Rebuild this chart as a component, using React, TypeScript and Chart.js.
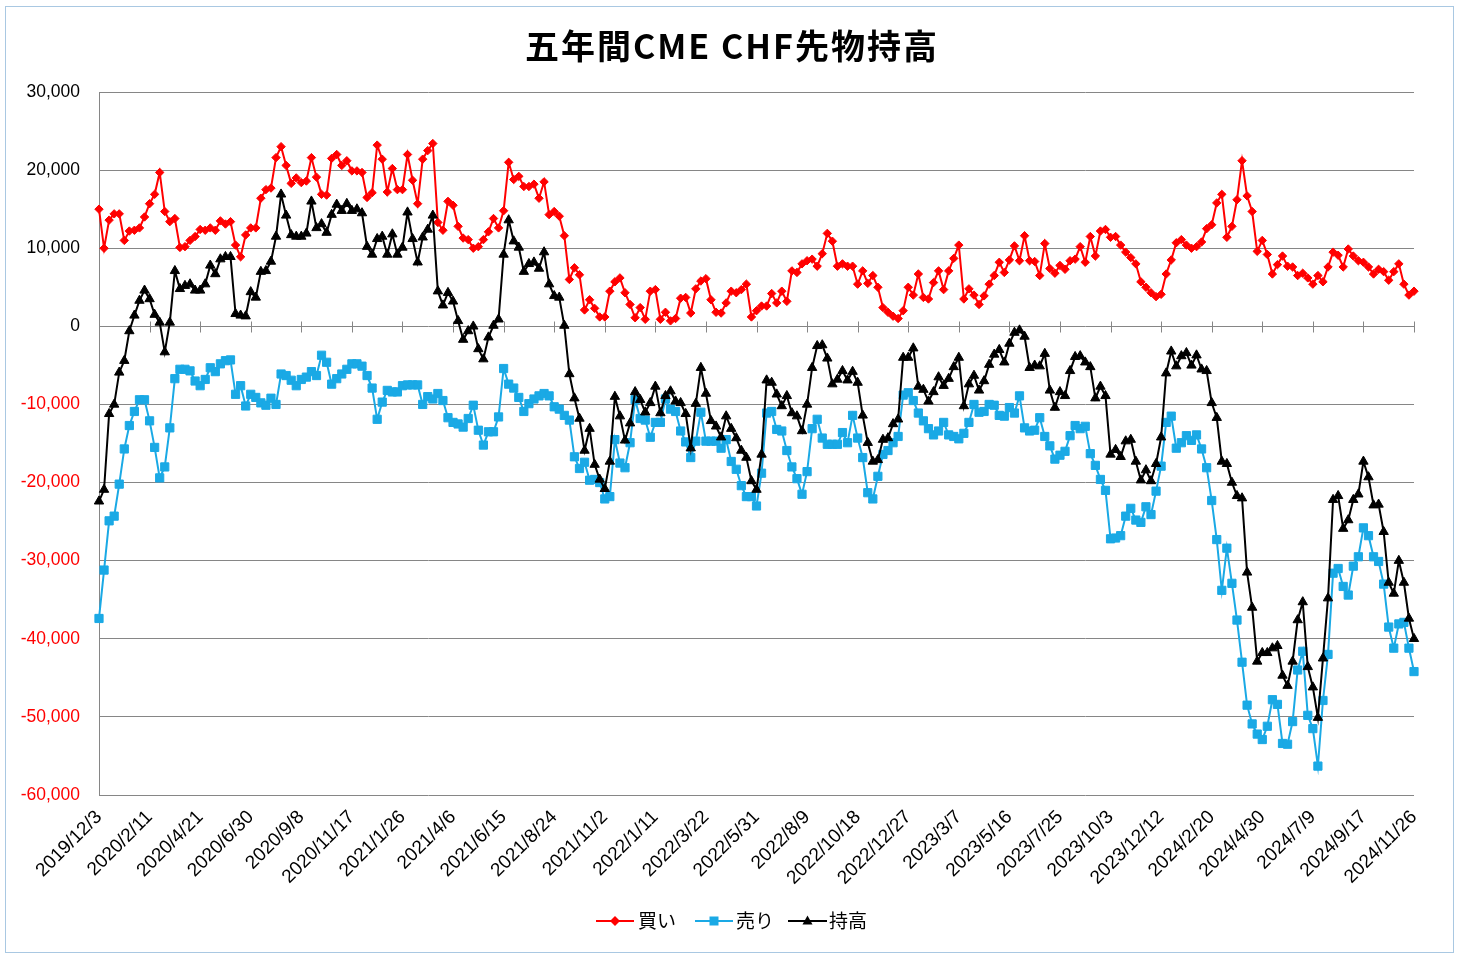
import React, { useEffect, useRef } from "react";
import { Chart, registerables } from "chart.js";

Chart.register(...registerables);

const TITLE = "五年間CME CHF先物持高";
const SERIES_NAMES = ["買い", "売り", "持高"];
const START_YEAR = 2019;
const START_MONTH = 12;
const START_DAY = 3;
const WEEK_COUNT = 261;
const LABEL_EVERY = 10;

const Y_MIN = -60000;
const Y_MAX = 30000;
const Y_STEP = 10000;

// weekly category labels (2019/12/3 ... 2024/11/26)
const categories: string[] = [];
for (let i = 0; i < WEEK_COUNT; i++) {
  const d = new Date(Date.UTC(START_YEAR, START_MONTH - 1, START_DAY + i * 7));
  categories.push(`${d.getUTCFullYear()}/${d.getUTCMonth() + 1}/${d.getUTCDate()}`);
}

const buyValues = [
  15000, 10000, 13600, 14400, 14400, 11000, 12200, 12300, 12600, 14000,
  15700, 16900, 19700, 14700, 13400, 13800, 10100, 10200, 11000, 11500,
  12400, 12300, 12600, 12300, 13500, 13100, 13400, 10400, 8900, 11700,
  12600, 12600, 16400, 17500, 17700, 21600, 23000, 20600, 18300, 19000,
  18400, 18600, 21600, 19100, 16900, 16800, 21500, 22000, 20600, 21200,
  19900, 19900, 19700, 16500, 17100, 23200, 21400, 17200, 20200, 17500,
  17500, 22000, 18700, 15700, 21400, 22500, 23400, 13300, 12300, 16000,
  15500, 12800, 11300, 11100, 10000, 10200, 11100, 12100, 13800, 12600,
  14800, 21000, 18800, 19200, 17900, 17900, 18200, 16400, 18500, 14300,
  14700, 14100, 11600, 6000, 7500, 6600, 2100, 3400, 2300, 1200,
  1200, 4500, 5700, 6200, 4300, 2800, 1100, 2400, 900, 4500,
  4700, 900, 1800, 700, 1000, 3600, 3700, 1700, 4800, 5800,
  6100, 3400, 1800, 1700, 3000, 4500, 4300, 4700, 5400, 1200,
  2000, 2600, 2600, 4200, 3000, 4500, 3200, 7100, 6900, 8000,
  8400, 8600, 7700, 9300, 11900, 10900, 7700, 8000, 7700, 7700,
  5400, 7100, 5500, 6500, 5000, 2400, 1800, 1300, 1000, 2000,
  5000, 4000, 6700, 3700, 3500, 5600, 7100, 4700, 7100, 8700,
  10400, 3500, 4800, 4000, 2800, 3900, 5400, 6500, 8200, 6900,
  8500, 10300, 8400, 11600, 8400, 8300, 6500, 10600, 7400, 6800,
  7800, 7300, 8400, 8600, 10200, 8200, 11500, 9000, 12200, 12400,
  11400, 11500, 10400, 9500, 8800, 8000, 5700, 5000, 4300, 3800,
  4100, 6700, 8500, 10700, 11100, 10400, 10000, 10200, 10800, 12500,
  13000, 15800, 16900, 11400, 12800, 16200, 21200, 16700, 14700, 9600,
  11000, 9200, 6700, 7900, 9000, 7700, 7600, 6500, 6800, 6200,
  5400, 6500, 5700, 7600, 9500, 9100, 7600, 9900, 9000, 8400,
  8200, 7600, 6700, 7300, 7000, 5900, 7000, 8000, 5400, 4000,
  4500,
];

const sellValues = [
  -37400, -31200, -24900, -24300, -20200, -15700, -12700, -10900, -9400, -9400,
  -12100, -15500, -19400, -18000, -13000, -6700, -5500, -5500, -5700, -7000,
  -7600, -6800, -5300, -5800, -4800, -4400, -4300, -8700, -7600, -10200,
  -8700, -9100, -9800, -10100, -9200, -10000, -6100, -6300, -6900, -7600,
  -6800, -6500, -5800, -6300, -3700, -4600, -7400, -6700, -6100, -5500,
  -4800, -4800, -5100, -6300, -7900, -11900, -9700, -8200, -8400, -8400,
  -7600, -7500, -7500, -7500, -10000, -9000, -9300, -8600, -9500, -11700,
  -12300, -12500, -12900, -11800, -10100, -13300, -15200, -13500, -13500, -11600,
  -5400, -7400, -7900, -9100, -10900, -9900, -9300, -8900, -8600, -8900,
  -10300, -10600, -11400, -12000, -16700, -18200, -17400, -19700, -19600, -20000,
  -22100, -21800, -14500, -17500, -18100, -14900, -9400, -11800, -12000, -14200,
  -12300, -12300, -9300, -10600, -10900, -13400, -14800, -16800, -14700, -11000,
  -14700, -14700, -14700, -15600, -14500, -17300, -18300, -20400, -21800, -21800,
  -23000, -18800, -11100, -10900, -13200, -13400, -15900, -18000, -19500, -21500,
  -18600, -13100, -11900, -14300, -15100, -15100, -15100, -13600, -14900, -11400,
  -14300, -16800, -21300, -22100, -19200, -16400, -15900, -14900, -14100, -8800,
  -8500, -9500, -11100, -12100, -13100, -13900, -13400, -12300, -13900, -14100,
  -14400, -13700, -12300, -10000, -11000, -10900, -10000, -10100, -11400, -11500,
  -10400, -11100, -8900, -13000, -13400, -13300, -11700, -14100, -15300, -17000,
  -16500, -16000, -14000, -12700, -13100, -12800, -16300, -17800, -19600, -21000,
  -27200, -27100, -26800, -24300, -23300, -24800, -25100, -23100, -24100, -21100,
  -17900, -12300, -11500, -15600, -14900, -14000, -14600, -13900, -15700, -18100,
  -22300, -27300, -33800, -28400, -32900, -37600, -43000, -48500, -50900, -52200,
  -52900, -51200, -47800, -48400, -53400, -53500, -50600, -44000, -41600, -49800,
  -51500, -56300, -47900, -42000, -31600, -31000, -33300, -34400, -30700, -29500,
  -25800, -26800, -29500, -30100, -33000, -38500, -41200, -38100, -37900, -41200,
  -44200,
];

const netValues = [
  -22400, -20900, -11200, -10000, -5900, -4400, -600, 1400, 3300, 4600,
  3500, 1500, 500, -3300, 500, 7100, 4800, 5200, 5400, 4600,
  4600, 5400, 7800, 6700, 8600, 8900, 8900, 1600, 1400, 1300,
  4400, 3700, 7000, 7100, 8300, 11500, 16900, 14200, 11700, 11500,
  11500, 11900, 16000, 12600, 13100, 12000, 14300, 15600, 14800, 15700,
  14800, 15000, 14500, 10200, 9200, 11200, 11500, 9200, 11800, 9200,
  10100, 14600, 11200, 8200, 11400, 12400, 14200, 4500, 2700, 4300,
  3200, 700, -1700, -600, 0, -2900, -4200, -1400, 100, 900,
  9200, 13600, 10900, 10100, 7000, 8000, 8200, 7400, 9500, 5400,
  3900, 3700, 100, -6100, -9200, -11800, -15900, -13100, -17700, -19600,
  -20800, -17300, -9000, -11500, -14600, -12400, -8400, -9400, -11000, -9800,
  -7700, -11100, -8900, -8300, -9600, -9800, -11200, -15600, -9900, -5300,
  -8600, -12100, -12800, -14200, -11500, -13100, -14300, -15900, -16800, -19800,
  -20900, -16400, -6900, -7200, -8700, -10200, -8900, -11100, -11500, -13400,
  -10000, -5300, -2500, -2400, -4100, -7400, -6800, -5700, -6900, -5800,
  -7200, -11400, -14900, -17300, -17100, -14500, -14300, -12500, -11900, -4000,
  -4000, -2800, -7700, -8100, -9600, -8400, -6500, -7600, -6700, -5200,
  -4000, -10200, -7400, -6300, -8200, -7000, -4900, -3600, -3000, -4600,
  -2200, -800, -500, -1300, -5300, -5000, -5100, -3500, -8200, -10400,
  -8400, -8900, -5700, -3900, -3800, -4600, -5200, -9200, -7700, -8900,
  -16400, -15800, -16700, -14700, -14500, -17300, -19700, -18400, -19800, -17600,
  -14200, -6000, -3200, -5100, -3800, -3400, -5000, -3700, -5500, -5700,
  -9800, -11700, -17300, -17600, -20000, -21700, -22000, -31500, -36000, -42900,
  -41800, -41800, -41200, -40900, -44700, -46000, -42900, -37600, -35300, -43600,
  -46200, -50100, -42500, -34800, -22200, -21700, -25900, -24800, -22200, -21500,
  -17300, -19300, -22900, -22800, -26300, -32800, -34200, -30000, -32800, -37400,
  -40000,
];

const COLORS = ["#FF0000", "#1AA9E5", "#000000"];
const GRID = "#868686";
const NUM_FONT = '"Liberation Sans", Arial, sans-serif';
const JP_FONT = '"Noto Sans CJK JP", "Noto Sans", sans-serif';

function drawMarker(ctx: CanvasRenderingContext2D, style: string, x: number, y: number, color: string) {
  ctx.save();
  ctx.fillStyle = color;
  ctx.beginPath();
  if (style === "rectRot") {
    const r = 5;
    ctx.moveTo(x, y - r);
    ctx.lineTo(x + r, y);
    ctx.lineTo(x, y + r);
    ctx.lineTo(x - r, y);
  } else if (style === "rect") {
    ctx.rect(x - 4.5, y - 4.5, 9, 9);
  } else {
    ctx.moveTo(x, y - 5.5);
    ctx.lineTo(x + 5, y + 3.5);
    ctx.lineTo(x - 5, y + 3.5);
  }
  ctx.closePath();
  ctx.fill();
  ctx.restore();
}

const decorPlugin = {
  id: "decor",
  beforeDraw(chart: any) {
    const ctx = chart.ctx as CanvasRenderingContext2D;
    ctx.save();
    ctx.fillStyle = "#FFFFFF";
    ctx.fillRect(0, 0, chart.width, chart.height);
    ctx.restore();
  },
  beforeDatasetsDraw(chart: any) {
    const ctx = chart.ctx as CanvasRenderingContext2D;
    const xs = chart.scales.x;
    const ys = chart.scales.y;
    const y0 = Math.round(ys.getPixelForValue(0)) + 0.5;
    ctx.save();
    ctx.strokeStyle = GRID;
    ctx.lineWidth = 1;
    for (let i = 0; i < categories.length; i += LABEL_EVERY) {
      const x = Math.round(xs.getPixelForValue(i)) + 0.5;
      ctx.beginPath();
      ctx.moveTo(x, y0 - 5);
      ctx.lineTo(x, y0 + 6);
      ctx.stroke();
    }
    ctx.restore();
  },
  afterDraw(chart: any) {
    const ctx = chart.ctx as CanvasRenderingContext2D;
    ctx.save();
    // title
    ctx.fillStyle = "#000000";
    ctx.font = `bold 34px ${JP_FONT}`;
    (ctx as any).letterSpacing = "2px";
    ctx.textAlign = "center";
    ctx.textBaseline = "middle";
    ctx.fillText(TITLE, 732, 46);
    (ctx as any).letterSpacing = "0px";

    // legend
    const ly = 921;
    const items = [
      { x0: 596, x1: 634, tx: 638, style: "rectRot" },
      { x0: 695, x1: 733, tx: 736, style: "rect" },
      { x0: 788, x1: 827, tx: 829, style: "triangle" },
    ];
    ctx.font = `19px ${JP_FONT}`;
    ctx.textAlign = "left";
    ctx.textBaseline = "middle";
    items.forEach((it, k) => {
      ctx.strokeStyle = COLORS[k];
      ctx.lineWidth = 2;
      ctx.beginPath();
      ctx.moveTo(it.x0, ly);
      ctx.lineTo(it.x1, ly);
      ctx.stroke();
      drawMarker(ctx, it.style, (it.x0 + it.x1) / 2, ly, COLORS[k]);
      ctx.fillStyle = "#000000";
      ctx.fillText(SERIES_NAMES[k], it.tx, ly);
    });

    // outer frame
    ctx.strokeStyle = "#A9C8E2";
    ctx.lineWidth = 1;
    ctx.strokeRect(5.5, 6.5, 1448, 946);
    ctx.restore();
  },
};

export default function App() {
  const canvasRef = useRef<HTMLCanvasElement | null>(null);

  useEffect(() => {
    const canvas = canvasRef.current;
    if (!canvas) return;
    const chart = new Chart(canvas, {
      type: "line",
      data: {
        labels: categories,
        datasets: [
          {
            label: SERIES_NAMES[0],
            data: buyValues,
            borderColor: COLORS[0],
            backgroundColor: COLORS[0],
            borderWidth: 2,
            pointStyle: "rectRot",
            pointRadius: 4.2,
            pointBorderWidth: 1,
            pointBorderColor: COLORS[0],
            pointBackgroundColor: COLORS[0],
            tension: 0,
            order: 2,
          },
          {
            label: SERIES_NAMES[1],
            data: sellValues,
            borderColor: COLORS[1],
            backgroundColor: COLORS[1],
            borderWidth: 2,
            pointStyle: "rect",
            pointRadius: 5.8,
            pointBorderWidth: 1,
            pointBorderColor: COLORS[1],
            pointBackgroundColor: COLORS[1],
            tension: 0,
            order: 1,
          },
          {
            label: SERIES_NAMES[2],
            data: netValues,
            borderColor: COLORS[2],
            backgroundColor: COLORS[2],
            borderWidth: 2,
            pointStyle: "triangle",
            pointRadius: 5.4,
            pointBorderWidth: 1,
            pointBorderColor: COLORS[2],
            pointBackgroundColor: COLORS[2],
            tension: 0,
            order: 0,
          },
        ],
      },
      options: {
        responsive: false,
        animation: false,
        devicePixelRatio: 1,
        layout: { padding: { top: 92, right: 46, bottom: 0, left: 0 } },
        plugins: {
          legend: { display: false },
          title: { display: false },
          tooltip: { enabled: false },
        },
        scales: {
          x: {
            type: "category",
            offset: false,
            grid: { display: false, drawTicks: false },
            border: { display: false },
            afterFit: (scale: any) => {
              scale.height = 165;
            },
            ticks: {
              autoSkip: false,
              minRotation: 45,
              maxRotation: 45,
              padding: 11,
              color: "#000000",
              font: { family: NUM_FONT, size: 19 },
              callback: (_v: any, idx: number) => (idx % LABEL_EVERY === 0 ? categories[idx] : ""),
            },
          },
          y: {
            type: "linear",
            min: Y_MIN,
            max: Y_MAX,
            grid: { color: GRID, lineWidth: 1, drawTicks: false },
            border: { display: true, color: GRID, width: 1 },
            afterFit: (scale: any) => {
              scale.width = 99;
            },
            ticks: {
              stepSize: Y_STEP,
              padding: 19,
              font: { family: NUM_FONT, size: 17.5 },
              color: (c: any) => (c.tick && c.tick.value < 0 ? "#FF0000" : "#000000"),
              callback: (v: any) => Number(v).toLocaleString("en-US"),
            },
          },
        },
      },
      plugins: [decorPlugin],
    } as any);
    return () => chart.destroy();
  }, []);

  return (
    <div style={{ position: "absolute", left: 0, top: 0, width: 1460, height: 960, background: "#fff" }}>
      <canvas ref={canvasRef} width={1460} height={960} style={{ width: 1460, height: 960, display: "block" }} />
    </div>
  );
}
